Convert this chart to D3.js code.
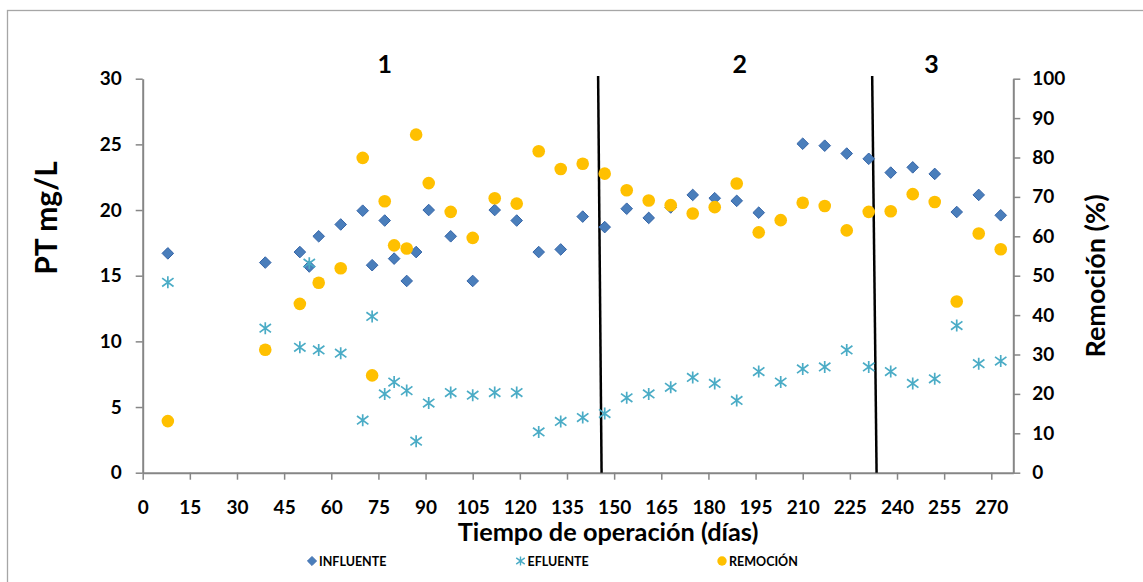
<!DOCTYPE html>
<html>
<head>
<meta charset="utf-8">
<script src="https://cdn.jsdelivr.net/npm/d3@7"></script>
<style>
  html, body { margin: 0; padding: 0; background: #ffffff; }
  svg { display: block; font-family: Lato, "Open Sans", sans-serif; font-weight: 700; }
</style>
</head>
<body>
<svg id="chart" width="1143" height="582"></svg>
<script>
// ---------- data ----------
const days = [8, 39, 50, 53, 56, 63, 70, 73, 77, 80, 84, 87, 91, 98, 105, 112, 119, 126, 133, 140,
              147, 154, 161, 168, 175, 182, 189, 196, 203, 210, 217, 224, 231, 238, 245, 252, 259, 266, 273];
const influente = [16.7, 16.0, 16.8, 15.7, 18.0, 18.9, 19.95, 15.8, 19.2, 16.3, 14.6, 16.8, 20.0, 18.0, 14.6, 20.0, 19.2, 16.8, 17.0, 19.5,
                   18.7, 20.1, 19.4, 20.2, 21.15, 20.9, 20.7, 19.8, null, 25.05, 24.9, 24.3, 23.9, 22.85, 23.25, 22.75, 19.85, 21.15, 19.6];
const efluente = [14.5, 11.0, 9.55, 15.95, 9.35, 9.1, 4.0, 11.9, 6.0, 6.9, 6.25, 2.4, 5.3, 6.1, 5.9, 6.1, 6.1, 3.1, 3.9, 4.2,
                  4.5, 5.7, 6.0, 6.5, 7.25, 6.8, 5.5, 7.7, 6.9, 7.9, 8.05, 9.35, 8.05, 7.7, 6.8, 7.15, 11.2, 8.3, 8.5];
const remocion = [13.1, 31.2, 42.85, null, 48.2, 51.9, 79.9, 24.7, 68.9, 57.7, 56.9, 85.8, 73.5, 66.2, 59.6, 69.65, 68.3, 81.6, 77.1, 78.4,
                  75.9, 71.7, 69.1, 67.9, 65.8, 67.4, 73.4, 61.0, 64.1, 68.5, 67.7, 61.5, 66.2, 66.35, 70.7, 68.7, 43.45, 60.7, 56.7];
const xTicks = [0, 15, 30, 45, 60, 75, 90, 105, 120, 135, 150, 165, 180, 195, 210, 225, 240, 255, 270];
const yLeftTicks = [0, 5, 10, 15, 20, 25, 30];
const yRightTicks = [0, 10, 20, 30, 40, 50, 60, 70, 80, 90, 100];
const phaseLabels = ["1", "2", "3"];
const phaseLabelDays = [77, 190, 251];
// phase boundary lines: day at top and at bottom (lines are slightly slanted in the original)
const phaseBoundsTop = [144.9, 232.1];
const phaseBoundsBottom = [146.0, 233.5];
const seriesNames = ["INFLUENTE", "EFLUENTE", "REMOCIÓN"];

// ---------- layout ----------
const svg = d3.select("#chart");
const plot = { left: 142.7, right: 1013.3, top: 78.7, bottom: 472.7 };
const x = d3.scaleLinear().domain([0, 277]).range([plot.left, plot.right]);
const yL = d3.scaleLinear().domain([0, 30]).range([plot.bottom, plot.top]);
const yR = d3.scaleLinear().domain([0, 100]).range([plot.bottom, plot.top]);

const axisColor = "#868686";
const colInf = "#4A7EBB", colInfStroke = "#3565A8";
const colEf = "#4BACC6";
const colRem = "#FFC000";

// outer frame
svg.append("rect").attr("x", 7.5).attr("y", 10.5).attr("width", 1150).attr("height", 600)
  .attr("fill", "none").attr("stroke", "#a6a6a6").attr("stroke-width", 1.3);

// ---------- axes ----------
function styleAxis(g) {
  g.selectAll(".domain").attr("stroke", axisColor).attr("stroke-width", 2);
  g.selectAll(".tick line").attr("stroke", axisColor).attr("stroke-width", 1.5);
  g.selectAll(".tick text").attr("fill", "#000").style("font-size", "19px").style("font-weight", 700)
    .style("font-family", "Lato, 'Open Sans', sans-serif");
}

const gx = svg.append("g").attr("transform", `translate(0,${plot.bottom})`)
  .call(d3.axisBottom(x).tickValues(xTicks).tickSize(7).tickSizeOuter(0).tickPadding(21));
styleAxis(gx);

const gyl = svg.append("g").attr("transform", `translate(${plot.left},0)`)
  .call(d3.axisLeft(yL).tickValues(yLeftTicks).tickSize(7).tickSizeOuter(0).tickPadding(14));
styleAxis(gyl);

const gyr = svg.append("g").attr("transform", `translate(${plot.right},0)`)
  .call(d3.axisRight(yR).tickValues(yRightTicks).tickSize(7).tickSizeOuter(0).tickPadding(12));
styleAxis(gyr);

// axis titles
svg.append("text").attr("transform", "translate(57,218) rotate(-90)")
  .attr("text-anchor", "middle").style("font-size", "30px").attr("fill", "#000").text("PT mg/L");
svg.append("text").attr("transform", "translate(1105,276) rotate(-90)")
  .attr("text-anchor", "middle").style("font-size", "27px").attr("fill", "#000").text("Remoción (%)");
svg.append("text").attr("x", 608).attr("y", 541)
  .attr("text-anchor", "middle").style("font-size", "25.3px").attr("fill", "#000").text("Tiempo de operación (días)");

// phase labels
svg.selectAll(".phase").data(phaseLabels).enter().append("text")
  .attr("x", (d, i) => x(phaseLabelDays[i])).attr("y", 73)
  .attr("text-anchor", "middle").style("font-size", "25px").attr("fill", "#000").text(d => d);

// phase boundary lines
svg.selectAll(".bound").data(phaseBoundsTop).enter().append("line")
  .attr("x1", d => x(d)).attr("y1", yL(30.2))
  .attr("x2", (d, i) => x(phaseBoundsBottom[i])).attr("y2", yL(0))
  .attr("stroke", "#000").attr("stroke-width", 2.5);

// ---------- marks ----------
const diamond = s => `M0,${-s}L${s},0L0,${s}L${-s},0Z`;
const star = s => `M0,${-s}V${s}M${-s * 0.95},${-s * 0.7}L${s * 0.95},${s * 0.7}M${-s * 0.95},${s * 0.7}L${s * 0.95},${-s * 0.7}`;

const infData = days.map((d, i) => ({ d, v: influente[i] })).filter(p => p.v !== null);
const efData = days.map((d, i) => ({ d, v: efluente[i] })).filter(p => p.v !== null);
const remData = days.map((d, i) => ({ d, v: remocion[i] })).filter(p => p.v !== null);

svg.append("g").selectAll("path").data(infData).enter().append("path")
  .attr("transform", p => `translate(${x(p.d)},${yL(p.v)})`)
  .attr("d", diamond(5.8)).attr("fill", colInf).attr("stroke", colInfStroke).attr("stroke-width", 1);

svg.append("g").selectAll("path").data(efData).enter().append("path")
  .attr("transform", p => `translate(${x(p.d)},${yL(p.v)})`)
  .attr("d", star(6)).attr("fill", "none").attr("stroke", colEf).attr("stroke-width", 1.7);

svg.append("g").selectAll("circle").data(remData).enter().append("circle")
  .attr("cx", p => x(p.d)).attr("cy", p => yR(p.v)).attr("r", 6.3).attr("fill", colRem);

// ---------- legend ----------
const legendX = [312, 520.5, 722];
const lg = svg.append("g");
lg.append("path").attr("transform", `translate(${legendX[0]},561)`).attr("d", diamond(4.6))
  .attr("fill", colInf).attr("stroke", colInfStroke).attr("stroke-width", 0.8);
lg.append("path").attr("transform", `translate(${legendX[1]},561)`).attr("d", star(4.5))
  .attr("fill", "none").attr("stroke", colEf).attr("stroke-width", 1.4);
lg.append("circle").attr("cx", legendX[2]).attr("cy", 561).attr("r", 4.7).attr("fill", colRem);
lg.selectAll("text").data(seriesNames).enter().append("text")
  .attr("x", (d, i) => legendX[i] + 7).attr("y", 565.5)
  .style("font-size", "12.5px").attr("fill", "#000").text(d => d);
</script>
</body>
</html>
